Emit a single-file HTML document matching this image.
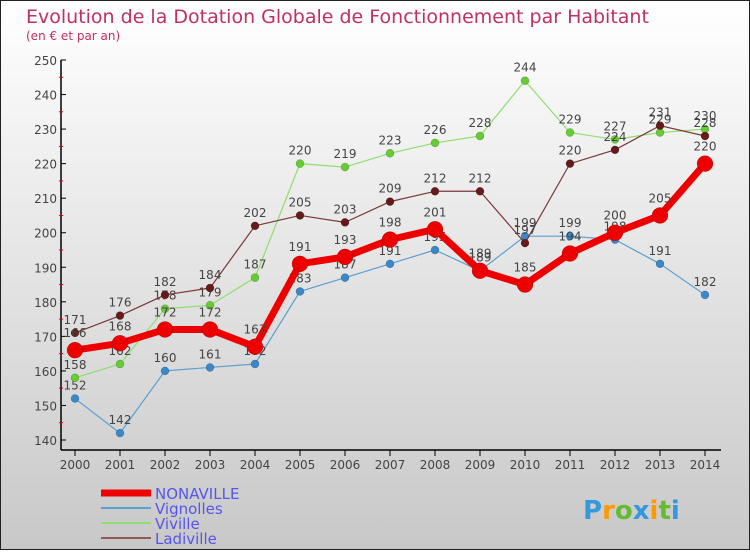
<!DOCTYPE html>
<html><head><meta charset="utf-8"><style>
body{margin:0;width:750px;height:550px;overflow:hidden}
#c{position:relative;width:748px;height:548px;border:1px solid #222;background:linear-gradient(#ffffff,#c8c8c8);font-family:"DejaVu Sans","Liberation Sans",sans-serif}
</style></head><body>
<div id="c">
<svg id="s" width="748" height="548"></svg>
</div>
<script>
const years=["2000","2001","2002","2003","2004","2005","2006","2007","2008","2009","2010","2011","2012","2013","2014"];
const nonaville=[166,168,172,172,167,191,193,198,201,189,185,194,200,205,220];
const vignolles=[152,142,160,161,162,183,187,191,195,189,199,199,198,191,182];
const viville=[158,162,178,179,187,220,219,223,226,228,244,229,227,229,230];
const ladiville=[171,176,182,184,202,205,203,209,212,212,197,220,224,231,228];
const yTicks=[140,150,160,170,180,190,200,210,220,230,240,250];
const NS="http://www.w3.org/2000/svg";
const s=document.getElementById('s');
function X(i){return 74+45*i;}
function Y(v){return 59+(250-v)*380/110;}
function el(t,a,p){const e=document.createElementNS(NS,t);for(const k in a)e.setAttribute(k,a[k]);(p||s).appendChild(e);return e;}
function tx(x,y,str,a,name){const e=el('text',Object.assign({x:x,y:y},a));e.textContent=str;return e;}
tx(25,22,"Evolution de la Dotation Globale de Fonctionnement par Habitant",{fill:"#c03060","font-size":"19"},"chart-title");
tx(25,39,"(en € et par an)",{fill:"#c03060","font-size":"12"},"chart-subtitle");
// axes
let a=el('line',{x1:60,y1:59,x2:60,y2:449,stroke:"#000","stroke-width":1.5});
a=el('line',{x1:60,y1:449,x2:720,y2:449,stroke:"#000","stroke-width":1.5});
yTicks.forEach(v=>{el('line',{x1:60,y1:Y(v),x2:65,y2:Y(v),stroke:"#000"});
 tx(56,Y(v)+5,String(v),{fill:"#444","font-size":"12","text-anchor":"end"},"y-tick-label");
 if(v<250)el('line',{x1:58,y1:Y(v+5),x2:62,y2:Y(v+5),stroke:"#e00"});});
years.forEach((y,i)=>{el('line',{x1:X(i),y1:449,x2:X(i),y2:455,stroke:"#000"});
 tx(X(i),468,y,{fill:"#444","font-size":"12","text-anchor":"middle"},"x-tick-label");});
function series(d,col,dot,w,r,name){
 const g=el('g',{});
 const p=el('polyline',{points:d.map((v,i)=>X(i)+","+Y(v)).join(" "),fill:"none",stroke:col,"stroke-width":w,"stroke-linejoin":"round"},g);
 
 d.forEach((v,i)=>{const c=el('circle',{cx:X(i),cy:Y(v),r:r,fill:dot,stroke:"rgba(0,0,0,0.3)","stroke-width":0.5},g);
  
  const t=el('text',{x:X(i),y:Y(v)-r-5,fill:"#444","font-size":"12","text-anchor":"middle"},g);t.textContent=v;
  });
}
series(vignolles,"#5aa0d0","#3a88c8",1.2,4,"vignolles");
series(viville,"#90dd70","#66cc33",1.2,4,"viville");
series(ladiville,"#7a3838","#661a1a",1.2,4,"ladiville");
series(nonaville,"#ee0000","#ee0000",7,8,"nonaville");
// legend
const leg=[["NONAVILLE","#ee0000",7],["Vignolles","#5aa0d0",2],["Viville","#90dd70",2],["Ladiville","#905858",2]];
leg.forEach((l,i)=>{const y=492+15*i;
 const ln=el('line',{x1:100,y1:y,x2:150,y2:y,stroke:l[1],"stroke-width":l[2]});
 tx(154,y+6,l[0],{fill:"#5555ee","font-size":"15"},"legend-entry");});
const lg=tx(582,518,"",{"font-size":"26","font-weight":"bold"},"proxiti-logo");
[["P","#3399dd"],["r","#ff9900"],["o","#66bb33"],["x","#3399dd"],["i","#ff9900"],["t","#66bb33"],["i","#3399dd"]].forEach(c=>{const sp=el('tspan',{fill:c[1]},lg);sp.textContent=c[0];});
</script>
</body></html>
